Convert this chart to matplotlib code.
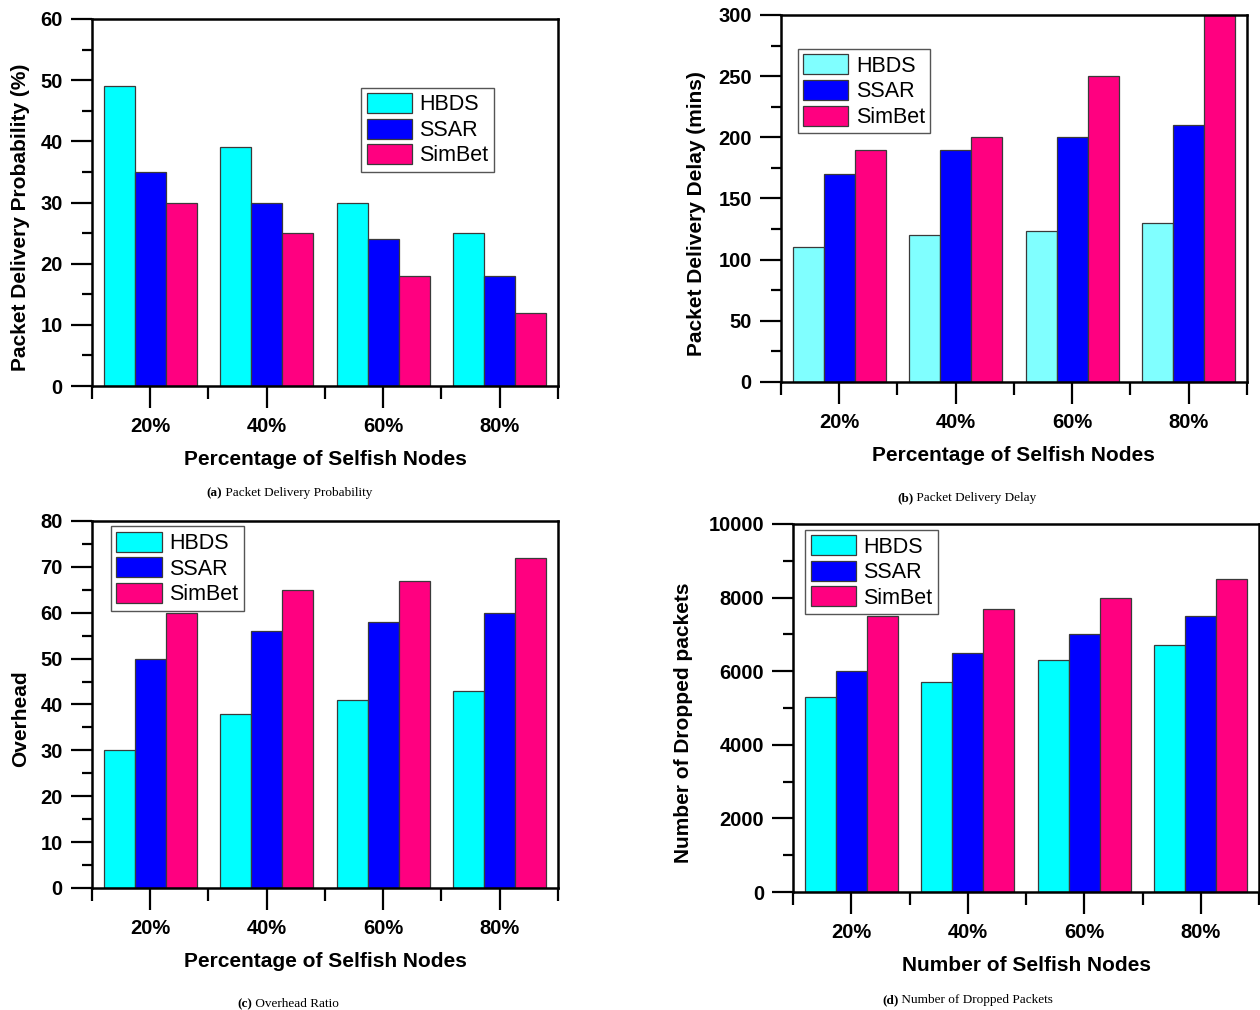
import numpy as np
import matplotlib
matplotlib.use("Agg")
import matplotlib.pyplot as plt
from matplotlib.ticker import MultipleLocator

plt.rcParams['font.family'] = ['Liberation Sans', 'DejaVu Sans']

categories = ['20%', '40%', '60%', '80%']
series_names = ['HBDS', 'SSAR', 'SimBet']

# (a) packet delivery probability
pdp_hbds = [49, 39, 30, 25]
pdp_ssar = [35, 30, 24, 18]
pdp_simbet = [30, 25, 18, 12]

# (b) packet delivery delay
delay_hbds = [110, 120, 123, 130]
delay_ssar = [170, 190, 200, 210]
delay_simbet = [190, 200, 250, 300]

# (c) overhead
ovh_hbds = [30, 38, 41, 43]
ovh_ssar = [50, 56, 58, 60]
ovh_simbet = [60, 65, 67, 72]

# (d) dropped packets
drop_hbds = [5300, 5700, 6300, 6700]
drop_ssar = [6000, 6500, 7000, 7500]
drop_simbet = [7500, 7700, 8000, 8500]

CYAN = '#00FFFF'
LIGHT_CYAN = '#80FFFF'
BLUE = '#0000FF'
PINK = '#FF0080'
EDGE = '#3a3a3a'


def draw_panel(fig, rect, data, colors, ymax, ymajor, yminor, ylabel, xlabel,
               legend_xy, ylabel_x, xlabel_y=-0.175):
    ax = fig.add_axes(rect)
    x = np.arange(len(categories))
    w = 0.8 / 3
    for i, (vals, name) in enumerate(zip(data, series_names)):
        ax.bar(x + (i - 1) * w, vals, width=w, color=colors[i], edgecolor=EDGE,
               linewidth=0.9, label=name, zorder=2)
    ax.set_xlim(-0.5, 3.5)
    ax.set_ylim(0, ymax)
    ax.set_xticks(x)
    ax.set_xticklabels(categories, fontsize=14.5, fontweight='bold')
    ax.xaxis.set_minor_locator(MultipleLocator(1, offset=0.5))
    ax.yaxis.set_major_locator(MultipleLocator(ymajor))
    ax.yaxis.set_minor_locator(MultipleLocator(yminor))
    for lab in ax.get_yticklabels():
        lab.set_fontsize(14.5)
        lab.set_fontweight('bold')
    ax.tick_params(axis='x', which='major', direction='out', length=16, width=1.6, pad=6)
    ax.tick_params(axis='x', which='minor', direction='out', length=9, width=1.6)
    ax.tick_params(axis='y', which='major', direction='out', length=15, width=1.6, pad=6)
    ax.tick_params(axis='y', which='minor', direction='out', length=7, width=1.6)
    for sp in ax.spines.values():
        sp.set_linewidth(1.8)
        sp.set_zorder(3)
    ax.set_ylabel(ylabel, fontsize=15, fontweight='bold')
    ax.set_xlabel(xlabel, fontsize=15, fontweight='bold')
    ax.yaxis.set_label_coords(ylabel_x, 0.46)
    ax.xaxis.set_label_coords(0.5, xlabel_y)
    leg = ax.legend(loc='upper left', bbox_to_anchor=legend_xy, fontsize=15.5,
                    fancybox=False, framealpha=1, edgecolor='#555555',
                    handlelength=2.1, handleheight=1.05, labelspacing=0.15,
                    handletextpad=0.35, borderpad=0.25, borderaxespad=0)
    leg.get_frame().set_linewidth(1.0)
    return ax


def caption(fig, x, y, tag, text):
    t = fig.text(x, y, tag, fontsize=9.5, fontweight='bold',
                 family='Liberation Serif', va='baseline')
    rest = fig.text(x, y, ' ' + text, fontsize=9.5, family='Liberation Serif',
                    va='baseline')
    fig.canvas.draw()
    bb = t.get_window_extent()
    x1 = fig.transFigure.inverted().transform((bb.x1, bb.y0))[0]
    rest.set_position((x1, y))


fig = plt.figure(figsize=(12.6, 10.1), dpi=100)

draw_panel(fig, [0.0730, 0.6178, 0.3698, 0.3634],
           [pdp_hbds, pdp_ssar, pdp_simbet], [CYAN, BLUE, PINK],
           60, 10, 5, 'Packet Delivery Probability (%)', 'Percentage of Selfish Nodes',
           (0.578, 0.813), -0.132)
draw_panel(fig, [0.6198, 0.6218, 0.3698, 0.3634],
           [delay_hbds, delay_ssar, delay_simbet], [LIGHT_CYAN, BLUE, PINK],
           300, 50, 25, 'Packet Delivery Delay (mins)', 'Percentage of Selfish Nodes',
           (0.036, 0.907), -0.161)
draw_panel(fig, [0.0730, 0.1208, 0.3698, 0.3634],
           [ovh_hbds, ovh_ssar, ovh_simbet], [CYAN, BLUE, PINK],
           80, 10, 5, 'Overhead', 'Percentage of Selfish Nodes',
           (0.041, 0.985), -0.132)
draw_panel(fig, [0.6294, 0.1168, 0.3698, 0.3644],
           [drop_hbds, drop_ssar, drop_simbet], [CYAN, BLUE, PINK],
           10000, 2000, 1000, 'Number of Dropped packets', 'Number of Selfish Nodes',
           (0.026, 0.984), -0.215)

caption(fig, 0.1635, 1 - 496 / 1010, '(a)', 'Packet Delivery Probability')
caption(fig, 0.712, 1 - 501 / 1010, '(b)', 'Packet Delivery Delay')
caption(fig, 0.188, 1 - 1007 / 1010, '(c)', 'Overhead Ratio')
caption(fig, 0.700, 1 - 1003 / 1010, '(d)', 'Number of Dropped Packets')

fig.savefig('out.png', dpi=100)
